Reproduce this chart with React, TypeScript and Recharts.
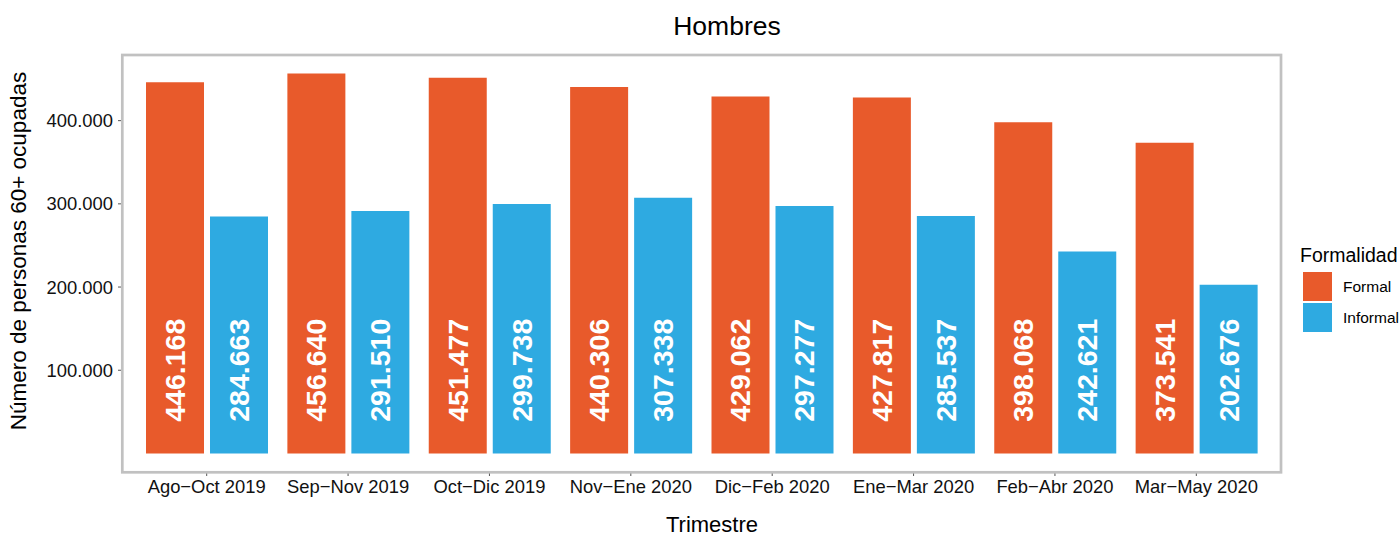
import { Bar, BarChart, LabelList, XAxis, YAxis } from 'recharts';

const trimestres = [
  'Ago−Oct 2019',
  'Sep−Nov 2019',
  'Oct−Dic 2019',
  'Nov−Ene 2020',
  'Dic−Feb 2020',
  'Ene−Mar 2020',
  'Feb−Abr 2020',
  'Mar−May 2020',
];
const formal = [446168, 456640, 451477, 440306, 429062, 427817, 398068, 373541];
const informal = [284663, 291510, 299738, 307338, 297277, 285537, 242621, 202676];
const yTicks = [100000, 200000, 300000, 400000];
// las etiquetas de las barras van centradas en este valor del eje y
const labelAt = 100000;

const FONT = '"Liberation Sans", Arial, sans-serif';
const ORANGE = '#E85A2B';
const BLUE = '#2EAAE1';

const data = trimestres.map((t, i) => ({ t, formal: formal[i], informal: informal[i] }));

const fmt = (n: number) => String(Math.round(n)).replace(/\B(?=(\d{3})+(?!\d))/g, '.');

function BarValue(props: any) {
  const { x, y, width, height, value } = props;
  const base = Number(y) + Number(height);
  const cy = base - Number(height) * (labelAt / Number(value));
  const cx = Number(x) + Number(width) / 2;
  return (
    <text
      x={cx}
      y={cy}
      transform={`rotate(-90 ${cx} ${cy})`}
      textAnchor="middle"
      dominantBaseline="central"
      fill="#fff"
      fontSize={28.5}
      fontWeight="bold"
      fontFamily={FONT}
    >
      {fmt(value)}
    </text>
  );
}

export default function App() {
  return (
    <div style={{ position: 'absolute', left: 0, top: 0, width: 1400, height: 537, background: '#fff' }}>
      <BarChart
        width={1400}
        height={537}
        data={data}
        margin={{ top: 55, right: 119, bottom: 25, left: 0 }}
        barSize={58}
        barGap={6}
      >
        <XAxis
          dataKey="t"
          height={40}
          padding={{ left: 14, right: 14 }}
          axisLine={false}
          tickLine={{ stroke: '#555' }}
          tickSize={4}
          tickMargin={4}
          tick={{ fontSize: 18.4, fill: '#111', fontFamily: FONT }}
          interval={0}
        />
        <YAxis
          width={122}
          domain={[-22300, 478900]}
          allowDataOverflow
          ticks={yTicks}
          tickFormatter={fmt}
          axisLine={false}
          tickLine={{ stroke: '#555' }}
          tickSize={4}
          tickMargin={5}
          tick={{ fontSize: 18.4, fill: '#111', fontFamily: FONT }}
        />
        <Bar dataKey="formal" fill={ORANGE} isAnimationActive={false}>
          <LabelList dataKey="formal" content={BarValue} />
        </Bar>
        <Bar dataKey="informal" fill={BLUE} isAnimationActive={false}>
          <LabelList dataKey="informal" content={BarValue} />
        </Bar>
      </BarChart>
      <svg
        width={1400}
        height={537}
        style={{ position: 'absolute', left: 0, top: 0, pointerEvents: 'none' }}
        fontFamily={FONT}
      >
        <rect x={122.3} y={55} width={1158.7} height={417.3} fill="none" stroke="#C1C1C1" strokeWidth={2.7} />
        <text x={727} y={35} textAnchor="middle" fontSize={26.5} fill="#000">
          Hombres
        </text>
        <text x={712} y={532} textAnchor="middle" fontSize={22} fill="#000">
          Trimestre
        </text>
        <text x={26} y={251} transform="rotate(-90 26 251)" textAnchor="middle" fontSize={22.5} fill="#000">
          Número de personas 60+ ocupadas
        </text>
        <text x={1300} y={262} fontSize={19.5} fill="#000">
          Formalidad
        </text>
        <rect x={1303} y={272} width={29} height={29} fill={ORANGE} />
        <rect x={1303} y={303} width={29} height={29} fill={BLUE} />
        <text x={1343} y={292} fontSize={15.5} fill="#000">
          Formal
        </text>
        <text x={1343} y={323} fontSize={15.5} fill="#000">
          Informal
        </text>
      </svg>
    </div>
  );
}
